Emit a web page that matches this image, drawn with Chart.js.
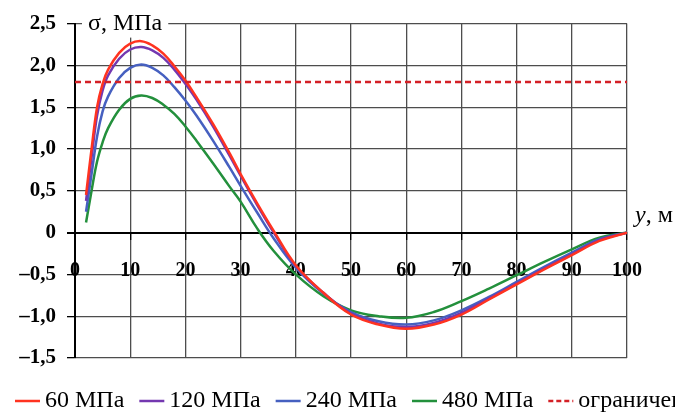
<!DOCTYPE html>
<html>
<head>
<meta charset="utf-8">
<script src="https://cdn.jsdelivr.net/npm/chart.js@4.4.1/dist/chart.umd.min.js"></script>
<style>
  html, body { margin: 0; padding: 0; background: #fff; }
  #wrap { width: 675px; height: 412px; }
</style>
</head>
<body>
<div id="wrap"><canvas id="stress-chart"></canvas></div>
<script>
const yPositions = [2, 3, 4, 5, 6, 8, 10, 12, 14, 16, 18, 20, 22, 25, 28, 30, 33, 36, 40, 45, 50, 55, 60, 65, 70, 75, 80, 85, 90, 95, 100]; // y, m

const s60 = [0.45, 1.0, 1.5, 1.78, 1.95, 2.15, 2.26, 2.29, 2.24, 2.14, 1.99, 1.82, 1.62, 1.30, 0.95, 0.70, 0.35, 0.02, -0.39, -0.72, -0.98, -1.10, -1.15, -1.10, -0.98, -0.80, -0.62, -0.44, -0.27, -0.10, 0];
const s120 = [0.38, 0.9, 1.4, 1.70, 1.88, 2.08, 2.19, 2.22, 2.18, 2.09, 1.95, 1.78, 1.59, 1.27, 0.92, 0.68, 0.33, 0.0, -0.40, -0.72, -0.97, -1.09, -1.13, -1.08, -0.96, -0.79, -0.61, -0.43, -0.26, -0.09, 0];
const s240 = [0.25, 0.7, 1.15, 1.45, 1.63, 1.85, 1.97, 2.01, 1.97, 1.88, 1.74, 1.58, 1.40, 1.10, 0.78, 0.56, 0.24, -0.07, -0.42, -0.73, -0.95, -1.06, -1.10, -1.05, -0.93, -0.77, -0.59, -0.41, -0.24, -0.08, 0];
const s480 = [0.12, 0.5, 0.85, 1.08, 1.25, 1.47, 1.60, 1.64, 1.61, 1.53, 1.42, 1.27, 1.10, 0.83, 0.55, 0.37, 0.05, -0.22, -0.50, -0.76, -0.93, -1.00, -1.02, -0.95, -0.82, -0.67, -0.51, -0.35, -0.20, -0.06, 0];

const limitX = [0, 100];
const limitY = [1.8, 1.8];

const seriesNames = ["60 МПа", "120 МПа", "240 МПа", "480 МПа", "ограничение"];
const seriesColors = ["#ff3320", "#7438b0", "#4660c0", "#23903c", "#d42026"];

const yTitle = "σ, МПа";
const xTitleItalic = "y";
const xTitleRest = ", м";

function toPoints(xs, ys) {
    return xs.map((x, i) => ({x: x, y: ys[i]}));
}

const curves = [s60, s120, s240, s480].map((vals, i) => ({
    label: seriesNames[i],
    data: toPoints(yPositions, vals),
    borderColor: seriesColors[i],
    borderWidth: 2.5,
    pointRadius: 0,
    tension: 0.4,
    fill: false
}));

const limitSet = {
    label: seriesNames[4],
    data: toPoints(limitX, limitY),
    borderColor: seriesColors[4],
    borderWidth: 2.5,
    borderDash: [6, 4],
    pointRadius: 0,
    fill: false,
    order: -1
};

function fmtTick(v) {
    if (Math.abs(v) < 1e-9) return "0";
    return (v < 0 ? "\u2013" : "") + Math.abs(v).toFixed(1).replace(".", ",");
}

// titles and legend drawn by hand so the legend runs off the right edge like the original
const decorPlugin = {
    id: "decor",
    afterDraw(chart) {
        const ctx = chart.ctx;
        const area = chart.chartArea;
        ctx.save();

        // y title sits on the top border
        ctx.font = "24px 'Liberation Serif'";
        const tw = ctx.measureText(yTitle).width;
        ctx.fillStyle = "#fff";
        ctx.fillRect(area.left + 7, area.top - 14, tw + 12, 28);
        ctx.fillStyle = "#000";
        ctx.textBaseline = "middle";
        ctx.textAlign = "left";
        ctx.fillText(yTitle, area.left + 13, area.top);

        // x title right of the zero line
        const zeroY = chart.scales.y.getPixelForValue(0);
        ctx.font = "italic 24px 'Liberation Serif'";
        ctx.fillText(xTitleItalic, area.right + 8, zeroY - 17);
        const iw = ctx.measureText(xTitleItalic).width;
        ctx.font = "24px 'Liberation Serif'";
        ctx.fillText(xTitleRest, area.right + 8 + iw, zeroY - 17);

        // legend
        ctx.font = "24px 'Liberation Serif'";
        let x = 15;
        const ly = 401;
        chart.data.datasets.forEach((ds) => {
            ctx.strokeStyle = ds.borderColor;
            ctx.lineWidth = 2.5;
            ctx.setLineDash(ds.borderDash ? [5, 3] : []);
            ctx.beginPath();
            ctx.moveTo(x, ly);
            ctx.lineTo(x + 25, ly);
            ctx.stroke();
            ctx.setLineDash([]);
            x += 30;
            ctx.fillStyle = "#000";
            ctx.fillText(ds.label, x, ly);
            x += ctx.measureText(ds.label).width + 15;
        });
        ctx.restore();
    }
};

const gridGray = "#4d4d4d";

const config = {
    type: "line",
    data: {
        datasets: [...curves, limitSet]
    },
    options: {
        responsive: true,
        maintainAspectRatio: false,
        animation: false,
        layout: {
            padding: {left: 0, top: 23, right: 48, bottom: 54}
        },
        plugins: {
            legend: {display: false},
            tooltip: {enabled: false}
        },
        scales: {
            x: {
                type: "linear",
                min: 0,
                max: 100,
                position: {y: 0},
                afterFit: (scale) => { scale.height = 0; },
                ticks: {
                    stepSize: 10,
                    padding: 20,
                    color: "#000",
                    font: {family: "'Liberation Serif'", size: 20, weight: "bold"}
                },
                grid: {color: gridGray, lineWidth: 1.3, tickLength: 6, tickColor: "#000"},
                border: {color: "#000", width: 2}
            },
            y: {
                min: -1.5,
                max: 2.5,
                afterFit: (scale) => { scale.width = 75; },
                ticks: {
                    stepSize: 0.5,
                    padding: 11,
                    color: "#000",
                    font: {family: "'Liberation Serif'", size: 21, weight: "bold"},
                    callback: fmtTick
                },
                grid: {
                    color: (c) => (c.tick && Math.abs(c.tick.value) < 1e-9) ? "#000" : gridGray,
                    lineWidth: (c) => (c.tick && Math.abs(c.tick.value) < 1e-9) ? 2 : 1.3,
                    tickLength: 8,
                    tickColor: "#000"
                },
                border: {color: "#000", width: 2}
            }
        }
    },
    plugins: [decorPlugin]
};

const stressChart = new Chart(document.getElementById("stress-chart"), config);
</script>
</body>
</html>
